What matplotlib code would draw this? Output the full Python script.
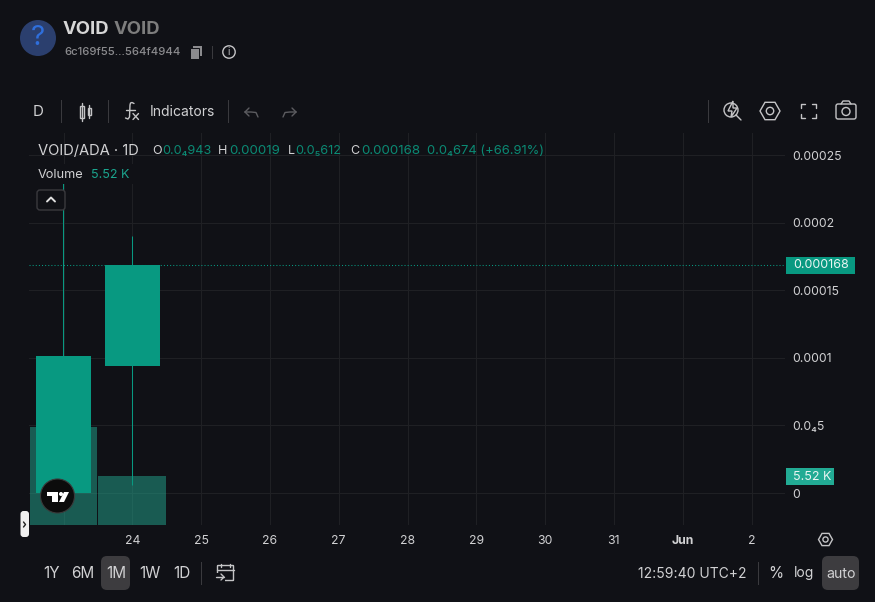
import matplotlib
matplotlib.use("Agg")
import matplotlib.pyplot as plt
from matplotlib.patches import Circle, FancyBboxPatch, Polygon, Rectangle

plt.rcParams["font.family"] = ["Inter", "DejaVu Sans"]

# ------------------------------------------------------
# Data
# ------------------------------------------------------
candle_days = [23, 24]
opens = [0.0, 0.0000943]
highs = [0.000232, 0.00019]
lows = [0.0, 0.00000612]
closes = [0.000101, 0.0001685]
volumes = [11040, 5520]
last_price = 0.0001685

day_ticks = [24, 25, 26, 27, 28, 29, 30, 31, 32, 33]
day_labels = ["24", "25", "26", "27", "28", "29", "30", "31", "Jun", "2"]
price_ticks = [0, 0.00005, 0.0001, 0.00015, 0.0002, 0.00025]
price_labels = ["0", "0.0₄5", "0.0001", "0.00015", "0.0002", "0.00025"]

BG = "#101116"
GRID = "#1f2024"
UP = "#089981"
VOL = "#22a68f"
TEXT = "#d1d1d3"
ICON = "#c4c4c6"
GREY = "#8b8b8e"

fig = plt.figure(figsize=(8.75, 6.02), dpi=100, facecolor=BG)

# plot area in pixels: x 29-785, y 133-525
pos = [29 / 875, 1 - 525 / 602, 756 / 875, 392 / 602]
px_per_day = 68.8
xlim = (23 + (29 - 63.5) / px_per_day, 23 + (785 - 63.5) / px_per_day)
px_per_price = 67.6 / 0.00005
ylim = (-(525 - 493) / px_per_price, (493 - 133) / px_per_price)

# ------------------------------------------------------
# Price axis: grid and ticks
# ------------------------------------------------------
ax = fig.add_axes(pos, zorder=1, facecolor=BG)
ax.set_xlim(xlim)
ax.set_ylim(ylim)
ax.set_axisbelow(True)
ax.grid(True, color=GRID, linewidth=0.75)
ax.set_xticks([23] + day_ticks)
ax.set_xticklabels([""] + day_labels, fontsize=8.8, color=TEXT)
ax.set_yticks(price_ticks)
ax.set_yticklabels(price_labels, fontsize=8.8, color=TEXT)
ax.yaxis.tick_right()
ax.tick_params(axis="x", length=0, pad=7.5)
ax.tick_params(axis="y", length=0, pad=5.2)
for s in ax.spines.values():
    s.set_visible(False)
for lbl in ax.get_xticklabels():
    if lbl.get_text() == "Jun":
        lbl.set_fontweight("bold")

# ------------------------------------------------------
# Volume, on its own scale at the bottom of the plot
# ------------------------------------------------------
vol_ax = fig.add_axes(pos, zorder=2)
vol_ax.patch.set_visible(False)
vol_ax.axis("off")
vol_ax.set_xlim(xlim)
vol_ax.set_ylim(0, 44160)
vol_ax.bar(candle_days, volumes, width=0.985, color=VOL, alpha=0.5, linewidth=0)

# ------------------------------------------------------
# Candles and last price line
# ------------------------------------------------------
price_ax = fig.add_axes(pos, zorder=3)
price_ax.patch.set_visible(False)
price_ax.axis("off")
price_ax.set_xlim(xlim)
price_ax.set_ylim(ylim)
for d, o, h, l, c in zip(candle_days, opens, highs, lows, closes):
    price_ax.vlines(d - 0.01, l, h, color=UP, linewidth=0.75)
    price_ax.bar(d, c - o, bottom=o, width=0.8, color=UP, linewidth=0)
price_ax.axhline(last_price, color=UP, linewidth=0.75, linestyle=(0, (1, 2)))

# ------------------------------------------------------
# Page furniture, in pixel coordinates
# ------------------------------------------------------
ui = fig.add_axes([0, 0, 1, 1], zorder=5)
ui.patch.set_visible(False)
ui.axis("off")
ui.set_xlim(0, 875)
ui.set_ylim(602, 0)


def label(x, y, s, color=TEXT, size=8.8, ha="left", weight="normal"):
    ui.text(x, y, s, color=color, fontsize=size, ha=ha, va="center", fontweight=weight)


def box(x0, y0, x1, y1, face, edge="none", r=3, lw=1):
    ui.add_patch(FancyBboxPatch((x0 + r, y0 + r), x1 - x0 - 2 * r, y1 - y0 - 2 * r,
                                boxstyle=f"round,pad={r}", fc=face, ec=edge, lw=lw))


def sep(x, y0, y1):
    ui.plot([x, x], [y0, y1], color="#3a3a3e", lw=0.75)


def stroke(xs, ys, color=ICON, lw=1):
    ui.plot(xs, ys, color=color, lw=lw, solid_capstyle="round")


def hexagon(cx, cy, r, color=ICON):
    pts = [(cx - r, cy), (cx - r / 2, cy - r * 0.87), (cx + r / 2, cy - r * 0.87),
           (cx + r, cy), (cx + r / 2, cy + r * 0.87), (cx - r / 2, cy + r * 0.87)]
    ui.add_patch(Polygon(pts, closed=True, fc="none", ec=color, lw=1))
    ui.add_patch(Circle((cx, cy), r * 0.37, fc="none", ec=color, lw=1))


# token header
ui.add_patch(Circle((38, 38), 18, fc="#2b3f6e", ec="none"))
ui.text(38, 38, "?", color="#2f6fdc", fontsize=20, ha="center", va="center")
label(63, 30, "VOID", color="#d6d6d6", size=13.3, weight="bold")
label(114, 30, "VOID", color="#7d7d7d", size=13.3, weight="bold")
label(64, 52, "6c169f55...564f4944", color=GREY, size=8.2, weight="medium")
ui.add_patch(Rectangle((193, 46), 9, 10, fc=GREY, ec="none"))
ui.add_patch(Rectangle((190, 48), 9, 11, fc=GREY, ec=BG, lw=0.7))
sep(212, 46, 58)
ui.add_patch(Circle((229, 52), 6.2, fc="none", ec=ICON, lw=1))
ui.text(229, 52, "i", color=ICON, fontsize=7, ha="center", va="center")

# top toolbar
label(38.5, 112, "D", size=10.8, ha="center")
sep(61, 100, 122)
ui.add_patch(Rectangle((79.5, 106), 4, 12, fc="none", ec=ICON, lw=1))
stroke([81.5, 81.5], [103, 121])
ui.add_patch(Rectangle((87.5, 108), 3.5, 7, fc="none", ec=ICON, lw=1))
stroke([89.3, 89.3], [105, 118])
sep(108, 100, 122)
# fx icon
stroke([134, 132, 130.5, 130, 129.5, 128, 125.5], [103.5, 102.5, 103, 105, 117, 119, 118])
stroke([125.5, 135], [110, 110])
stroke([133, 138.5], [113.5, 119.5])
stroke([138.5, 133], [113.5, 119.5])
label(150, 112, "Indicators", size=10)
sep(228, 100, 122)
stroke([245, 251, 256, 258], [112, 112, 112.5, 117], color="#5c5c60")
stroke([245, 249], [112, 108], color="#5c5c60")
stroke([245, 249], [112, 116], color="#5c5c60")
stroke([296, 290, 285, 283], [112, 112, 112.5, 117], color="#5c5c60")
stroke([296, 292], [112, 108], color="#5c5c60")
stroke([296, 292], [112, 116], color="#5c5c60")
sep(708, 100, 122)
ui.add_patch(Circle((731, 110), 7, fc="none", ec=ICON, lw=1))
ui.add_patch(Polygon([(733, 101), (728, 111), (732, 111), (731, 117), (737, 108), (733, 108)],
                     closed=True, fc=BG, ec=ICON, lw=1))
stroke([736, 741], [115, 120])
hexagon(770, 111, 10)
for cx, cy, dx, dy in [(801, 104, 1, 1), (816, 104, -1, 1), (801, 118, 1, -1), (816, 118, -1, -1)]:
    stroke([cx, cx, cx + 4 * dx], [cy + 4 * dy, cy, cy])
box(836, 104, 856, 119, "none", edge=ICON, r=2)
ui.add_patch(Circle((846, 111.5), 4, fc="none", ec=ICON, lw=1))
stroke([841, 843, 849, 851], [104, 101, 101, 104])

# legend row
label(38, 151, "VOID/ADA · 1D", size=10.6)
green = "#0b8a74"
for x, s, c, size in [(152, "O", TEXT, 9), (162.5, "0.0₄943", green, 9.1), (218, "H", TEXT, 9),
                      (229, "0.00019", green, 9.6), (287.5, "L", TEXT, 9), (295.5, "0.0₅612", green, 9.1),
                      (350.5, "C", TEXT, 9), (361, "0.000168", green, 9.6),
                      (427, "0.0₄674 (+66.91%)", green, 9.3)]:
    label(x, 151, s, color=c, size=size)
box(30, 164, 140, 184, BG, r=0)
label(38, 175, "Volume", size=9.2)
label(91, 175, "5.52 K", color="#1ba58e", size=9)
box(37, 190, 65, 210, BG, edge="#3a3a3e", r=3)
stroke([47, 51, 55], [201.5, 197.5, 201.5], color="#e0e0e0", lw=1.4)

# price labels on the right
ui.add_patch(Rectangle((786, 257), 69, 17, fc=UP, ec="none"))
label(793, 265.5, "0.000168", color="#e8f5f2", size=9)
ui.add_patch(Rectangle((786, 468), 48, 17, fc="#22ab94", ec="none"))
label(793, 476.5, "5.52 K", color="#e8f5f2", size=9)
hexagon(825.5, 539.5, 7)

# TradingView badge and the small collapse pill
ui.add_patch(Circle((57.5, 496), 17, fc="#0c0c0c", ec="#3a3a3a", lw=0.8))
ui.add_patch(Rectangle((47, 492), 11, 4, fc="white", ec="none"))
ui.add_patch(Rectangle((52, 492), 6, 10, fc="white", ec="none"))
ui.add_patch(Circle((61, 494), 2, fc="white", ec="none"))
ui.add_patch(Polygon([(64, 492), (69, 492), (64, 502), (59, 502)], closed=True, fc="white", ec="none"))
box(20.5, 511, 29, 537, "#f0f0f0", r=3)
stroke([23.5, 25.5, 23.5], [522, 524.5, 527], color="#222222")

# bottom bar
box(101, 556, 130, 590, "#3d3c3f", r=6)
box(822, 556, 859, 590, "#3d3c3f", r=6)
for x, s in [(52, "1Y"), (83, "6M"), (116, "1M"), (150, "1W"), (182, "1D")]:
    label(x, 574, s, size=11, ha="center")
sep(201, 562, 584)
ui.add_patch(FancyBboxPatch((218, 566), 15, 14, boxstyle="round,pad=0.5", fc="none", ec=ICON, lw=1))
stroke([217, 234], [570, 570])
stroke([221, 221], [564, 567])
stroke([230, 230], [564, 567])
ui.add_patch(Rectangle((214, 573), 11, 9, fc=BG, ec="none"))
stroke([216, 224], [577, 577])
stroke([221, 224, 221], [574, 577, 580])
label(747, 573.5, "12:59:40 UTC+2", size=10, ha="right")
sep(758, 562, 584)
label(776, 573.5, "%", size=11, ha="center")
label(804.5, 573.5, "log", size=10, ha="center")
label(841, 573.5, "auto", size=10.2, ha="center")

fig.savefig("out.png", dpi=100, facecolor=BG)
